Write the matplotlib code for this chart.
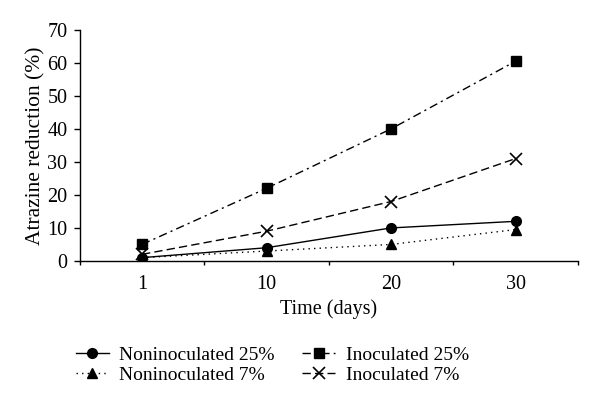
import matplotlib
matplotlib.use("Agg")
import matplotlib.pyplot as plt
import numpy as np

categories = ["1", "10", "20", "30"]
non25 = [1, 4, 10, 12]
non7 = [1, 3, 5, 9.5]
ino25 = [5, 22, 40, 60.5]
ino7 = [2, 9, 18, 31]

plt.rcParams['font.family'] = ['Liberation Serif', 'DejaVu Serif']

fig = plt.figure(figsize=(6.0, 4.09), dpi=100)
ax = fig.add_axes([0.133, 0.362, 0.83, 0.565])
x = np.arange(len(categories))

l1, = ax.plot(x, non25, color='black', lw=1.0, linestyle='-', marker='o', ms=7, label='Noninoculated 25%')
l2, = ax.plot(x, non7, color='black', lw=1.0, linestyle=(0, (1, 3)), marker='^', ms=6.5, label='Noninoculated 7%')
l3, = ax.plot(x, ino25, color='black', lw=1.0, linestyle=(0, (6, 3, 1.5, 3)), marker='s', ms=7, label='Inoculated 25%')
l4, = ax.plot(x, ino7, color='black', lw=1.0, linestyle=(0, (6, 3)), marker='x', ms=8, mew=1.2, label='Inoculated 7%')

ax.set_xlim(-0.5, 3.5)
ax.set_ylim(0, 70)
ax.set_yticks(np.arange(0, 71, 10))
ax.set_xticks(x)
ax.set_xticklabels(categories)
ax.set_xticks(np.arange(-0.5, 3.6, 1), minor=True)
ax.tick_params(axis='x', which='major', length=0, labelsize=14.5, pad=10)
ax.tick_params(axis='x', which='minor', length=3, direction='out', width=1)
ax.tick_params(axis='y', which='major', length=4, direction='out', width=1, labelsize=14.5, pad=5)
for s in ['top', 'right']:
    ax.spines[s].set_visible(False)
for s in ['left', 'bottom']:
    ax.spines[s].set_linewidth(1.0)

ax.set_xlabel('Time (days)', fontsize=14.5, labelpad=4)
ax.set_ylabel('Atrazine reduction (%)', fontsize=15.5, labelpad=1)

fig.legend(handles=[l1, l2, l3, l4], loc='lower left', bbox_to_anchor=(0.113, 0.042), ncol=2,
           frameon=False, fontsize=14, handlelength=1.7, columnspacing=1.4,
           labelspacing=0.15, handletextpad=0.55, borderaxespad=0)

fig.savefig('out.png', dpi=100)
